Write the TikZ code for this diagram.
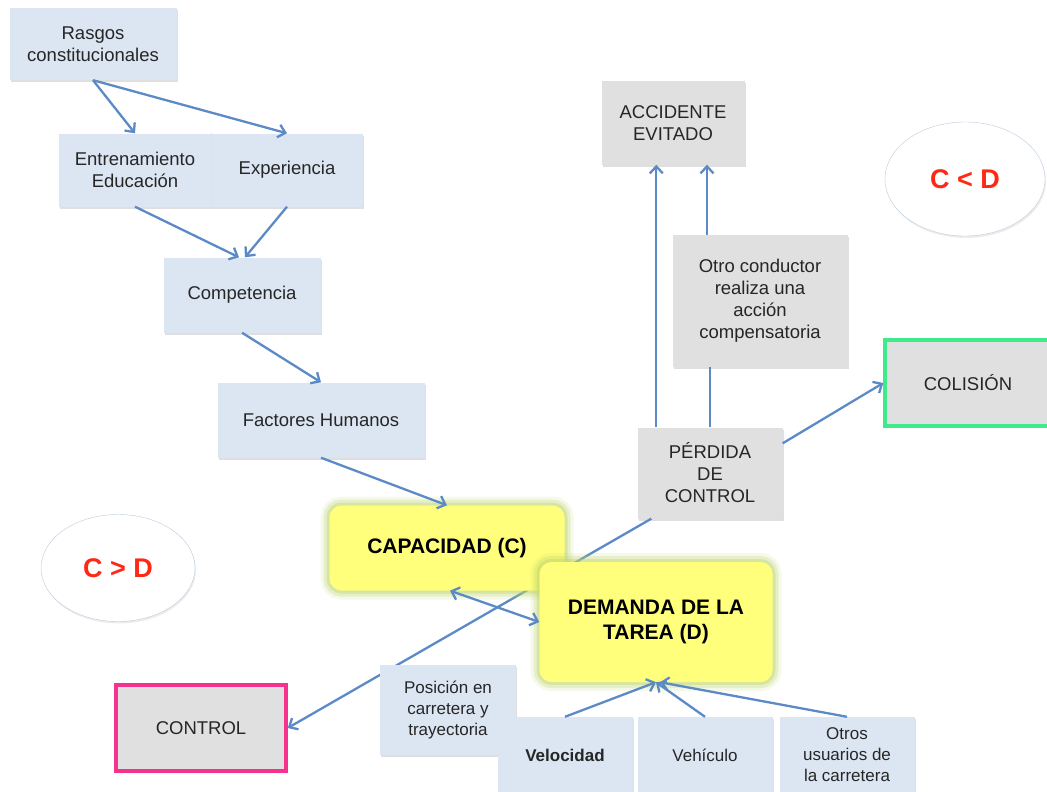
\documentclass[tikz,border=0pt]{standalone}
\usepackage{fontspec}
\setmainfont{Liberation Sans}
\usetikzlibrary{shadows,shapes.geometric,arrows.meta}

\definecolor{cajaazul}{HTML}{DCE6F2}
\definecolor{cajagris}{HTML}{E0E0E0}
\definecolor{flecha}{HTML}{5B8AC6}
\definecolor{amarillo}{HTML}{FFFF7C}
\definecolor{brillo}{HTML}{BCD46A}
\definecolor{rosa}{HTML}{F4338F}
\definecolor{verde}{HTML}{3DEB8B}
\definecolor{rojo}{HTML}{FF2814}
\definecolor{borde}{HTML}{BCCBDD}

\tikzset{
	azul/.style={fill=cajaazul, rectangle, align=center, inner sep=2pt, text=black!85,
		drop shadow={opacity=0.25, shadow xshift=1pt, shadow yshift=-2pt},
		font=\fontsize{18.5}{22}\selectfont},
	gris/.style={azul, fill=cajagris},
	abajo/.style={azul, font=\fontsize{17}{21}\selectfont},
	tarea/.style={fill=amarillo, rectangle, rounded corners=12pt, align=center,
		preaction={draw=brillo, line width=18pt, opacity=0.15},
		preaction={draw=brillo, line width=12pt, opacity=0.25},
		preaction={draw=brillo, line width=6pt, opacity=0.4},
		font=\bfseries\fontsize{21}{25}\selectfont},
	ovalo/.style={ellipse, draw=borde, fill=white, text=rojo,
		drop shadow={opacity=0.15, shadow xshift=1pt, shadow yshift=-2pt},
		font=\bfseries\fontsize{27}{30}\selectfont},
	conector/.style={draw=flecha, line width=2.3pt, -{Straight Barb[length=7pt,width=13pt]}},
	doble/.style={conector, {Straight Barb[length=7pt,width=13pt]}-{Straight Barb[length=7pt,width=13pt]}}
}

\begin{document}
\begin{tikzpicture}[x=1pt, y=-1pt]
	\useasboundingbox (0,0) rectangle (1047,792);
	% salida del control
	\node[gris, minimum width=145, minimum height=91](perdida) at (710,473) {PÉRDIDA\\DE\\CONTROL};
	\node[gris, draw=rosa, line width=3.5pt, minimum width=170, minimum height=86](control) at (201,728) {CONTROL};
	\draw[conector] ([xshift=14]perdida.south west) -- (control.east);
	% factores humanos
	\node[azul, minimum width=167, minimum height=72](rasgos) at (93,44) {Rasgos\\constitucionales};
	\node[azul, minimum width=152, minimum height=73](entrenamiento) at (135,170) {Entrenamiento\\Educación};
	\node[azul, minimum width=152, minimum height=73](experiencia) at (287,170) {Experiencia};
	\draw[black!12, line width=1pt] (entrenamiento.north east) -- (entrenamiento.south east);
	\node[azul, minimum width=157, minimum height=75](competencia) at (242,295) {Competencia};
	\node[azul, minimum width=207, minimum height=75](factores) at (321,420) {Factores Humanos};
	% capacidad y demanda
	\node[tarea, minimum width=235, minimum height=85](capacidad) at (447,548) {CAPACIDAD (C)};
	\node[tarea, minimum width=233, minimum height=120](demanda) at (656,622) {DEMANDA DE LA\\TAREA (D)};
	\node[ovalo, minimum width=154, minimum height=107](mayor) at (118,568) {C > D};
	\node[ovalo, minimum width=160, minimum height=114](menor) at (965,179) {C < D};
	% componentes de la demanda
	\node[abajo, minimum width=136, minimum height=90](posicion) at (448,710) {Posición en\\carretera y\\trayectoria};
	\node[abajo, minimum width=135, minimum height=76](velocidad) at (565,755) {\bfseries Velocidad};
	\node[abajo, minimum width=135, minimum height=76](vehiculo) at (705,755) {Vehículo};
	\node[abajo, minimum width=135, minimum height=76](otros) at (847,755) {Otros\\usuarios de\\la carretera};
	% resultados
	\node[gris, minimum width=143, minimum height=83](accidente) at (673,123) {ACCIDENTE\\EVITADO};
	\node[gris, minimum width=175, minimum height=132](otro) at (760,301) {Otro conductor\\realiza una\\acción\\compensatoria};
	\node[gris, draw=verde, line width=3.5pt, minimum width=166, minimum height=86](colision) at (968,383) {COLISIÓN};

	\draw[conector] (rasgos.south) -- (entrenamiento.north);
	\draw[conector] (rasgos.south) -- (experiencia.north);
	\draw[conector] (entrenamiento.south) -- ([xshift=-3]competencia.north);
	\draw[conector] (experiencia.south) -- ([xshift=3]competencia.north);
	\draw[conector] (competencia.south) -- (factores.north);
	\draw[conector] (factores.south) -- (capacidad.north);
	\draw[doble] ([xshift=3]capacidad.south) -- (demanda.west);
	\draw[conector] (velocidad.north) -- (demanda.south);
	\draw[conector] (vehiculo.north) -- (demanda.south);
	\draw[conector] (otros.north) -- ([xshift=4]demanda.south);
	\draw[conector] ([xshift=19]perdida.north west) -- ([xshift=19]perdida.north west |- accidente.south);
	\draw[conector, -] (perdida.north) -- (perdida.north |- otro.south);
	\draw[conector] ([xshift=34]accidente.south |- otro.north) -- ([xshift=34]accidente.south);
	\draw[conector] ([yshift=-16]perdida.north east) -- (colision.west);
\end{tikzpicture}
\end{document}
